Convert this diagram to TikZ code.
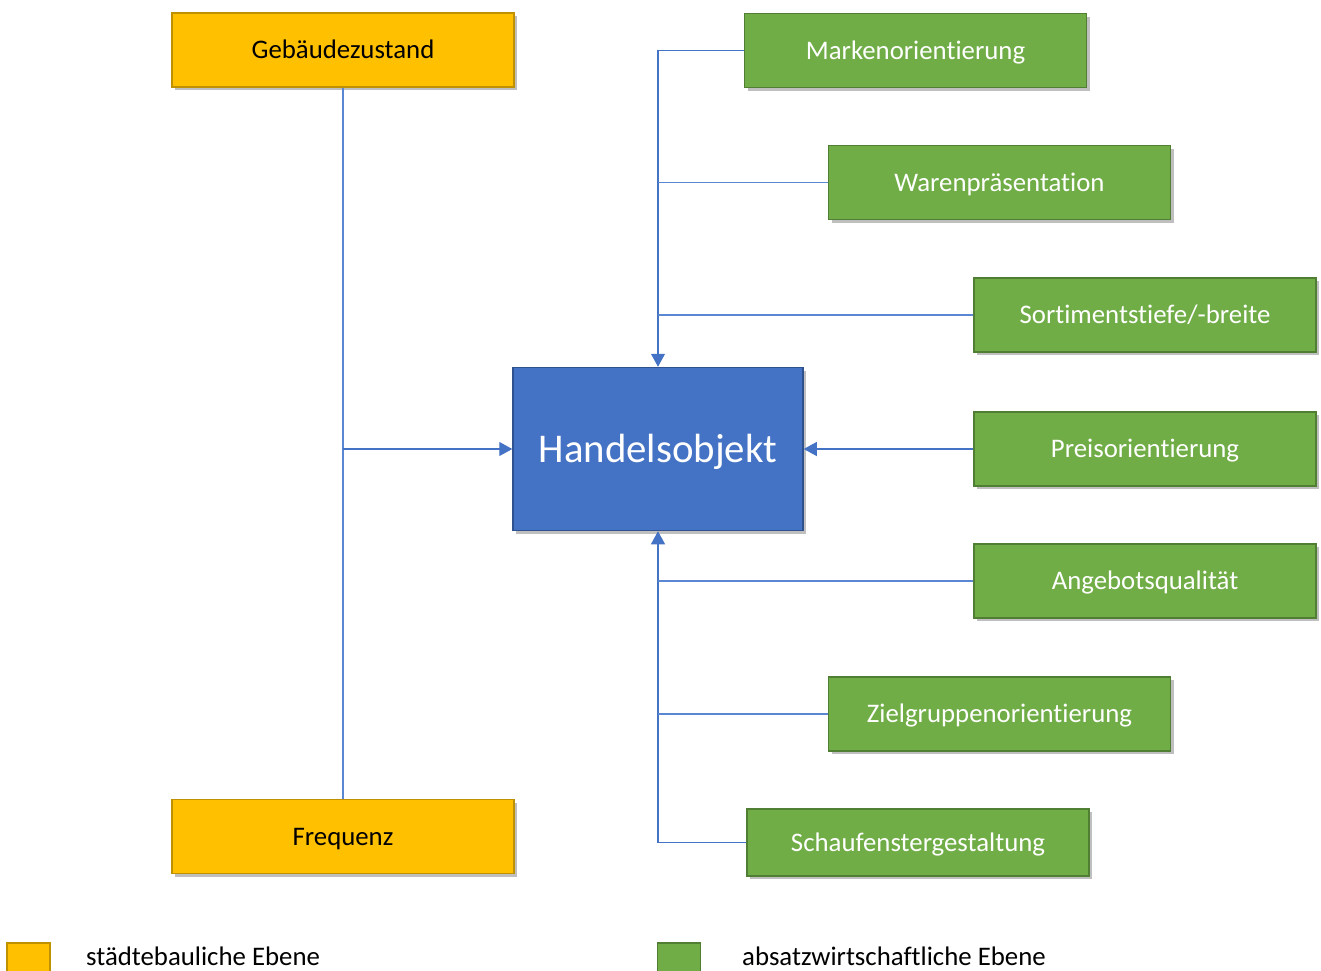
\documentclass[tikz,border=0pt]{standalone}
\usepackage{fontspec}
\setmainfont{Carlito}[Ligatures=NoCommon]
\usetikzlibrary{arrows.meta,shadows}
\definecolor{yel}{HTML}{FFC000}
\definecolor{yelb}{HTML}{BF9000}
\definecolor{grn}{HTML}{70AD47}
\definecolor{grnb}{HTML}{507E32}
\definecolor{blu}{HTML}{4472C4}
\definecolor{blub}{HTML}{2F528F}
\definecolor{lin}{HTML}{5B86D2}
\tikzset{
  box/.style={rectangle, minimum width=342pt, minimum height=74pt, line width=1.5pt, inner sep=0pt,
    text height=17.3pt, text depth=0pt,
    drop shadow={shadow xshift=3pt, shadow yshift=-3pt, opacity=0.25, fill=black}},
  ybox/.style={box, fill=yel, draw=yelb, text=black, font=\fontsize{26.8}{32}\selectfont},
  gbox/.style={box, fill=grn, draw=grnb, text=white, font=\fontsize{26.8}{32}\selectfont},
  hbox/.style={box, fill=blu, draw=blub, text=white, minimum width=290pt, minimum height=163pt,
    text height=26.3pt, font=\fontsize{40.8}{48}\selectfont},
  conn/.style={draw=lin, line width=1.1pt},
  arr/.style={conn, -{Triangle[width=14pt,length=13pt]}, blu},
  legsq/.style={rectangle, inner sep=0pt, line width=1.5pt, minimum width=43pt, minimum height=47pt},
  legtxt/.style={anchor=base west, inner sep=0pt, font=\fontsize{26.8}{32}\selectfont}
}
\begin{document}
\begin{tikzpicture}[x=1pt,y=-1pt]
\useasboundingbox (0,0) rectangle (1321,970);
% nodes
\node[ybox] (geb) at (343,50) {Gebäudezustand};
\node[ybox] (freq) at (343,836.5) {Frequenz};
\node[hbox] (hand) at (658,449) {Handelsobjekt};
\node[gbox] (mark) at (915.5,50.5) {Markenorientierung};
\node[gbox] (waren) at (999.5,182.5) {Warenpräsentation};
\node[gbox] (sort) at (1145,315) {Sortimentstiefe/-breite};
\node[gbox] (preis) at (1145,449) {Preisorientierung};
\node[gbox] (angebot) at (1145,581) {Angebotsqualität};
\node[gbox] (ziel) at (999.5,714) {Zielgruppenorientierung};
\node[gbox, minimum height=67pt] (schau) at (918,842.5) {Schaufenstergestaltung};
% connectors
\coordinate (lj) at (geb.south |- hand.west);
\draw[conn] (geb.south) -- (freq.north);
\draw[arr] (lj) -- (hand.west);
\draw[arr] (mark.west) -| (hand.north);
\draw[conn] (waren.west) -- (waren.west -| hand.north);
\draw[conn] (sort.west) -- (sort.west -| hand.north);
\draw[arr] (preis.west) -- (hand.east);
\draw[arr] (schau.west) -| (hand.south);
\draw[conn] (angebot.west) -- (angebot.west -| hand.south);
\draw[conn] (ziel.west) -- (ziel.west -| hand.south);
% legend
\node[legsq, fill=yel, draw=yelb] (leg1) at (28.5,966.5) {};
\node[legtxt] (leg1t) at (86,965) {städtebauliche Ebene};
\node[legsq, fill=grn, draw=grnb] (leg2) at (679,966.5) {};
\node[legtxt] (leg2t) at (742,965) {absatzwirtschaftliche Ebene};
\end{tikzpicture}
\end{document}
